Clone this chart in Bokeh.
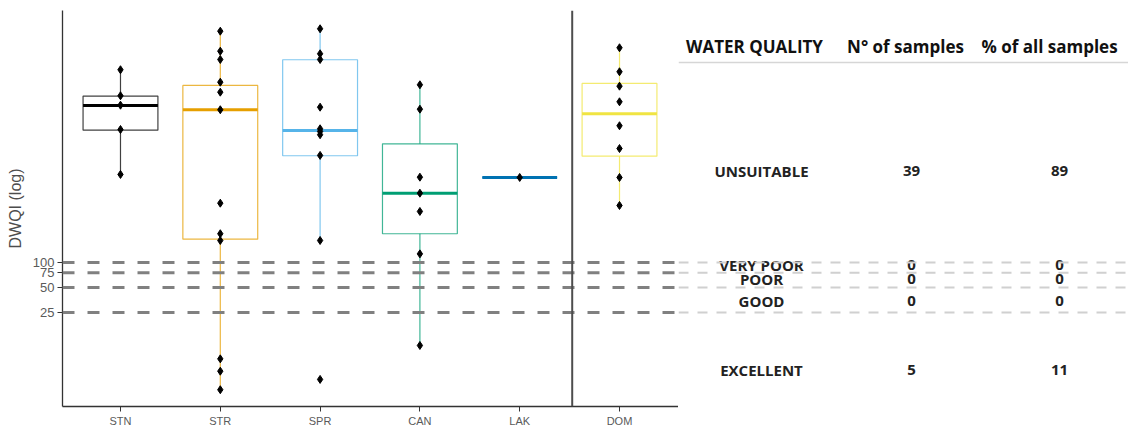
import numpy as np
from bokeh.plotting import figure
from bokeh.models import Range1d, Span, FixedTicker, PrintfTickFormatter, ColumnDataSource
from bokeh.layouts import row
from bokeh.embed import file_html
from bokeh.resources import INLINE
from bokeh.core.properties import value

# ---------------- data ----------------
categories = ["STN", "STR", "SPR", "CAN", "LAK", "DOM"]
colors = ["#000000", "#E69F00", "#56B4E9", "#009E73", "#0072B2", "#F0E442"]

stn_points = [21000, 10200, 7850, 4000, 1150]
str_points = [61200, 35150, 27900, 14870, 11270, 6920, 518, 222, 184, 6.9, 4.9, 2.93]
spr_points = [65400, 32700, 27900, 7430, 4080, 3790, 3460, 1950, 184, 3.9]
can_points = [13830, 7030, 1066, 684, 412, 127, 10]
lak_points = [1057]
dom_points = [38630, 19850, 13310, 8630, 4440, 2360, 1057, 486]
points_by_cat = [stn_points, str_points, spr_points, can_points, lak_points, dom_points]

q1 = [3930, 191, 1930, 222, 1057, 1909]
median = [7800, 6920, 3895, 684, 1057, 6190]
q3 = [10100, 13580, 27700, 2692, 1057, 14350]
whisker_low = [1150, 2.93, 184, 10, 1057, 486]
whisker_high = [21000, 61200, 65400, 13830, 1057, 38630]

thresholds = [25, 50, 75, 100]

table_header = ["WATER QUALITY", "N\u00b0 of samples", "% of all samples"]
quality = ["UNSUITABLE", "VERY POOR", "POOR", "GOOD", "EXCELLENT"]
n_samples = ["39", "0", "0", "0", "5"]
pct_samples = ["89", "0", "0", "0", "11"]

# ---------------- layout constants ----------------
H = 429
TOP, BOTTOM = 10, 23
LEFT_W = 678
RIGHT_W = 1128 - LEFT_W
box_half = 0.375
y_lo, y_hi = 1.84, 108600

xs = np.arange(1, len(categories) + 1)

p = figure(width=LEFT_W, height=H, output_backend="svg", toolbar_location=None,
           y_axis_type="log", x_range=Range1d(0.419, 6.591), y_range=Range1d(y_lo, y_hi),
           min_border_left=62, min_border_right=0, min_border_top=TOP, min_border_bottom=BOTTOM)
p.outline_line_color = None
p.xgrid.visible = False
p.ygrid.visible = False
p.background_fill_color = "white"

# threshold lines
for t in thresholds:
    p.add_layout(Span(location=t, dimension="width", line_color="#808080",
                      line_width=3, line_dash="12 13"))

# facet separator
p.add_layout(Span(location=len(categories) - 0.5 + 0.026, dimension="height",
                  line_color="#4d4d4d", line_width=2))

# boxes
src = ColumnDataSource(dict(x=xs, left=xs - box_half, right=xs + box_half,
                            q1=q1, q3=q3, med=median, lo=whisker_low, hi=whisker_high,
                            color=colors))
p.segment(x0="x", x1="x", y0="q3", y1="hi", line_color="color", line_width=1.2,
          line_alpha=0.75, source=src)
p.segment(x0="x", x1="x", y0="q1", y1="lo", line_color="color", line_width=1.2,
          line_alpha=0.75, source=src)
p.quad(left="left", right="right", top="q3", bottom="q1", fill_color="white",
       fill_alpha=0, line_color="color", line_width=1.2, line_alpha=0.75, source=src)
p.segment(x0="left", x1="right", y0="med", y1="med", line_color="color",
          line_width=3, source=src)

# points
px, py = [], []
for i, pts in enumerate(points_by_cat):
    px += [xs[i]] * len(pts)
    py += pts
p.scatter(px, py, marker="diamond", size=8, color="black")

# axes
p.xaxis.ticker = FixedTicker(ticks=list(xs))
p.xaxis.major_label_overrides = {int(x): c for x, c in zip(xs, categories)}
p.yaxis.ticker = FixedTicker(ticks=thresholds)
p.yaxis.formatter = PrintfTickFormatter(format="%d")
p.yaxis.axis_label = "DWQI (log)"
for ax in (p.xaxis[0], p.yaxis[0]):
    ax.axis_line_color = "#333333"
    ax.axis_line_width = 1.3
    ax.major_tick_line_color = "#333333"
    ax.major_tick_in = 0
    ax.major_tick_out = 5
    ax.minor_tick_line_color = None
    ax.major_label_text_color = "#5a5a5a"
    ax.major_label_text_font = "Liberation Sans"
    ax.major_label_standoff = 3
p.xaxis.major_label_text_font_size = "11px"
p.yaxis.major_label_text_font_size = "13px"
p.yaxis.axis_label_text_font = "Liberation Sans"
p.yaxis.axis_label_text_font_size = "16px"
p.yaxis.axis_label_text_font_style = "normal"
p.yaxis.axis_label_text_color = "#4d4d4d"
p.yaxis.axis_label_standoff = 6

# ---------------- table panel ----------------
q = figure(width=RIGHT_W, height=H, output_backend="svg", toolbar_location=None,
           y_axis_type="log", x_range=Range1d(0, RIGHT_W), y_range=p.y_range,
           min_border_left=0, min_border_right=0, min_border_top=TOP, min_border_bottom=BOTTOM)
q.outline_line_color = None
q.xaxis.visible = False
q.yaxis.visible = False
q.xgrid.visible = False
q.ygrid.visible = False

for t in thresholds:
    q.add_layout(Span(location=t, dimension="width", line_color="#d0d0d0",
                      line_width=2, line_dash="10 9"))

header_x = [76, 227, 371]
header_y = 40000
underline_y = 25700
q.add_layout(Span(location=underline_y, dimension="width", line_color="#d6d6d6", line_width=1.5))
q.text(x=header_x, y=[header_y] * 3, text=table_header, text_align="center",
       text_baseline="middle", text_font=value("Open Sans"), text_font_style="bold",
       text_font_size="17px", text_color="#111111")

row_y = [1248, 92, 64, 34.8, 5.0]
col_x = [83, 233, 381]
for cx, col in zip(col_x, [quality, n_samples, pct_samples]):
    q.text(x=[cx] * len(col), y=row_y, text=col, text_align="center",
           text_baseline="middle", text_font=value("Open Sans"), text_font_style="bold",
           text_font_size="15px", text_color="#222222")

layout = row(p, q, spacing=0)
open("out.html", "w").write(file_html(layout, INLINE))
